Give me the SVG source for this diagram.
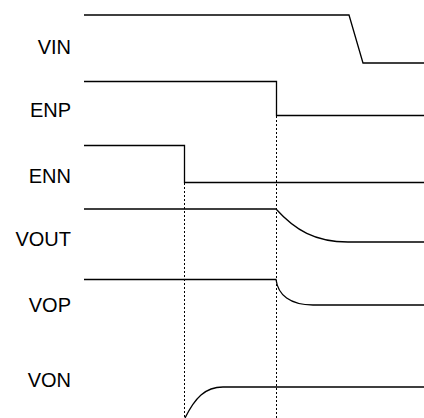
<svg xmlns="http://www.w3.org/2000/svg" width="424" height="418" viewBox="0 0 424 418">
<style>
.sig{fill:none;stroke:#000;stroke-width:1.3}
.guide{fill:none;stroke:#000;stroke-width:1;stroke-dasharray:2,2}
.lbl{font-family:"Liberation Sans",Arial,sans-serif;font-size:20px;fill:#000;text-anchor:end}
</style>
<rect width="424" height="418" fill="#fff"/>
<g id="connectors">
<path class="guide" d="M184.5,183 V418"/>
<path class="guide" d="M276.5,116 V418"/>
</g>
<g id="VIN"><text class="lbl" x="71" y="54">VIN</text><path class="sig" d="M84,15 H349 L363,63 H424"/></g>
<g id="ENP"><text class="lbl" x="71" y="117">ENP</text><path class="sig" d="M84,81.5 H276.5 V115.5 H424"/></g>
<g id="ENN"><text class="lbl" x="71" y="183">ENN</text><path class="sig" d="M84,145.5 H184.5 V182.5 H424"/></g>
<g id="VOUT"><text class="lbl" x="71" y="246">VOUT</text><path class="sig" d="M84,209 H276 C295,230 315,242 348,242 H424"/></g>
<g id="VOP"><text class="lbl" x="71" y="312">VOP</text><path class="sig" d="M84,279.5 H276 C278,295 290,305 313,305 H424"/></g>
<g id="VON"><text class="lbl" x="71" y="387">VON</text><path class="sig" d="M185,418 C195,398 205,387 223,387 H424"/></g>
</svg>
